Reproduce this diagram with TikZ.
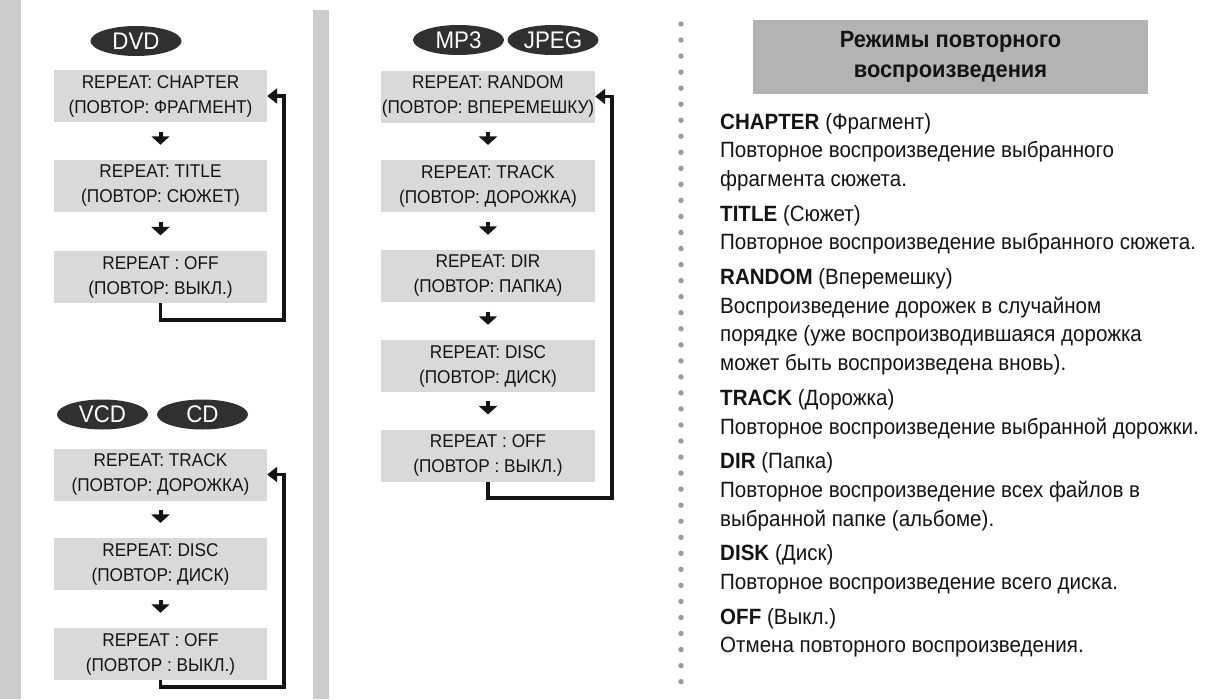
\documentclass[tikz,border=0pt]{standalone}
\usepackage{fontspec}
\setmainfont[FakeStretch=0.93]{Liberation Sans}
\usetikzlibrary{shapes.geometric,arrows.meta,calc}
\definecolor{boxgray}{RGB}{217,217,217}
\definecolor{titlegray}{RGB}{179,179,179}
\definecolor{bargray}{RGB}{204,204,204}
\definecolor{dotgray}{RGB}{155,155,155}
\definecolor{discgray}{RGB}{48,48,48}
\definecolor{ink}{RGB}{20,20,20}
\begin{document}
\begin{tikzpicture}[x=1pt,y=-1pt,
  stepbox/.style={fill=boxgray, minimum width=213pt, minimum height=52pt, inner sep=0pt, align=center, text=ink, font=\fontsize{18.5}{25}\selectfont},
  disc/.style={ellipse, fill=discgray, text=white, minimum width=91pt, minimum height=30pt, inner sep=0pt, font=\fontsize{24}{24}\selectfont},
  nextarrow/.style={line width=4pt, draw=ink, -{Triangle[length=8.5pt,width=18pt]}},
  loopline/.style={line width=3.8pt, draw=ink, line join=miter, -{Triangle[length=10pt,width=15pt]}},
  desc/.style={anchor=base west, inner sep=0pt, text=ink, font=\fontsize{22.1}{28.7}\selectfont},
  titlebox/.style={fill=titlegray, minimum width=395pt, minimum height=74pt, inner sep=0pt, align=center, text=ink, font=\bfseries\fontsize{23.5}{30}\selectfont},
]
\useasboundingbox (0,0) rectangle (1207,699);
\fill[white] (0,0) rectangle (1207,699);
% gray side bars
\fill[bargray] (0,0) rectangle (21,699);
\fill[bargray] (313,10) rectangle (329,699);
% dotted separator
\foreach \i in {0,...,41} \fill[dotgray] (681,{24+16.04*\i}) circle (2.7pt);

% ---------- DVD ----------
\node[disc] (dvd) at (136,41) {DVD};
\node[stepbox] (d1) at (160.5,96) {REPEAT: CHAPTER\\(ПОВТОР: ФРАГМЕНТ)};
\node[stepbox] (d2) at (160.5,186) {REPEAT: TITLE\\(ПОВТОР: СЮЖЕТ)};
\node[stepbox] (d3) at (160.5,277) {REPEAT : OFF\\(ПОВТОР: ВЫКЛ.)};
\draw[nextarrow] ($(d1.south)!0.25!(d2.north)$) -- ($(d1.south)!0.6!(d2.north)$);
\draw[nextarrow] ($(d2.south)!0.25!(d3.north)$) -- ($(d2.south)!0.6!(d3.north)$);
\coordinate (dturn) at (284,320);
\draw[loopline] (d3.south) |- (dturn) |- (d1.east);

% ---------- VCD / CD ----------
\node[disc] (vcd) at (102.5,414.5) {VCD};
\node[disc] (cd) at (202.5,414.5) {CD};
\node[stepbox] (v1) at (160.5,474.5) {REPEAT: TRACK\\(ПОВТОР: ДОРОЖКА)};
\node[stepbox] (v2) at (160.5,564) {REPEAT: DISC\\(ПОВТОР: ДИСК)};
\node[stepbox] (v3) at (160.5,654) {REPEAT : OFF\\(ПОВТОР : ВЫКЛ.)};
\draw[nextarrow] ($(v1.south)!0.25!(v2.north)$) -- ($(v1.south)!0.6!(v2.north)$);
\draw[nextarrow] ($(v2.south)!0.25!(v3.north)$) -- ($(v2.south)!0.6!(v3.north)$);
\coordinate (vturn) at (284,687);
\draw[loopline] (v3.south) |- (vturn) |- (v1.east);

% ---------- MP3 / JPEG ----------
\node[disc] (mp3) at (458.5,40) {MP3};
\node[disc] (jpeg) at (553,40) {JPEG};
\node[stepbox, minimum width=214pt] (m1) at (488,96.5) {REPEAT: RANDOM\\(ПОВТОР: ВПЕРЕМЕШКУ)};
\node[stepbox, minimum width=214pt] (m2) at (488,186) {REPEAT: TRACK\\(ПОВТОР: ДОРОЖКА)};
\node[stepbox, minimum width=214pt] (m3) at (488,276) {REPEAT: DIR\\(ПОВТОР: ПАПКА)};
\node[stepbox, minimum width=214pt] (m4) at (488,366) {REPEAT: DISC\\(ПОВТОР: ДИСК)};
\node[stepbox, minimum width=214pt] (m5) at (488,455.5) {REPEAT : OFF\\(ПОВТОР : ВЫКЛ.)};
\draw[nextarrow] ($(m1.south)!0.25!(m2.north)$) -- ($(m1.south)!0.6!(m2.north)$);
\draw[nextarrow] ($(m2.south)!0.25!(m3.north)$) -- ($(m2.south)!0.6!(m3.north)$);
\draw[nextarrow] ($(m3.south)!0.25!(m4.north)$) -- ($(m3.south)!0.6!(m4.north)$);
\draw[nextarrow] ($(m4.south)!0.25!(m5.north)$) -- ($(m4.south)!0.6!(m5.north)$);
\coordinate (mturn) at (612,498);
\draw[loopline] (m5.south) |- (mturn) |- (m1.east);

% ---------- description ----------
\node[titlebox] (title) at (950.5,57) {Режимы повторного\\воспроизведения};
\node[desc] (r1) at (720,129) {\textbf{CHAPTER} (Фрагмент)};
\node[desc] (r2) at (720,157.7) {Повторное воспроизведение выбранного};
\node[desc] (r3) at (720,186.4) {фрагмента сюжета.};
\node[desc] (r4) at (720,221.1) {\textbf{TITLE} (Сюжет)};
\node[desc] (r5) at (720,249.8) {Повторное воспроизведение выбранного сюжета.};
\node[desc] (r6) at (720,284.5) {\textbf{RANDOM} (Вперемешку)};
\node[desc] (r7) at (720,313.2) {Воспроизведение дорожек в случайном};
\node[desc] (r8) at (720,341.9) {порядке (уже воспроизводившаяся дорожка};
\node[desc] (r9) at (720,370.6) {может быть воспроизведена вновь).};
\node[desc] (r10) at (720,405.3) {\textbf{TRACK} (Дорожка)};
\node[desc] (r11) at (720,434) {Повторное воспроизведение выбранной дорожки.};
\node[desc] (r12) at (720,468.7) {\textbf{DIR} (Папка)};
\node[desc] (r13) at (720,497.4) {Повторное воспроизведение всех файлов в};
\node[desc] (r14) at (720,526.1) {выбранной папке (альбоме).};
\node[desc] (r15) at (720,560.8) {\textbf{DISK} (Диск)};
\node[desc] (r16) at (720,589.5) {Повторное воспроизведение всего диска.};
\node[desc] (r17) at (720,624.2) {\textbf{OFF} (Выкл.)};
\node[desc] (r18) at (720,652.9) {Отмена повторного воспроизведения.};
\end{tikzpicture}
\end{document}
